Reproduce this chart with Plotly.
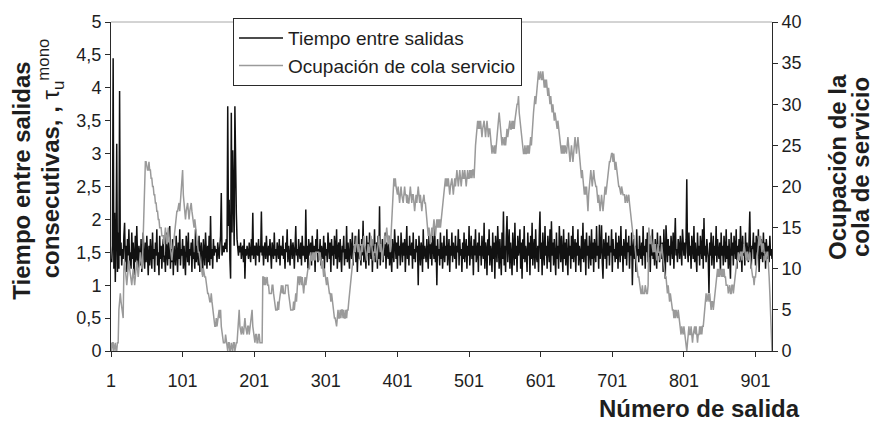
import plotly.graph_objects as go

# Tick positions on the departure-number axis
numero_salida_ticks = [1, 101, 201, 301, 401, 501, 601, 701, 801, 901]

# Time between consecutive departures (left axis), one value per departure
tiempo_entre_salidas = [
    1.40, 1.35, 1.60, 4.45, 1.25, 2.10, 1.05, 1.70, 3.15, 1.20,
    1.80, 1.25, 3.95, 1.45, 1.65, 1.30, 1.55, 1.40, 1.75, 1.95,
    1.35, 1.60, 1.20, 1.70, 1.45, 1.85, 1.30, 1.50, 1.25, 1.80,
    1.40, 1.65, 1.15, 1.55, 1.75, 1.35, 1.90, 1.45, 1.25, 1.60,
    1.50, 1.30, 1.70, 1.20, 1.55, 1.80, 1.40, 1.25, 1.65, 1.35,
    1.75, 1.45, 1.15, 1.60, 1.30, 1.70, 1.50, 1.25, 1.80, 1.40,
    1.55, 1.20, 1.65, 1.45, 1.85, 1.30, 1.50, 1.15, 1.75, 1.40,
    1.60, 1.25, 1.55, 1.70, 1.35, 1.45, 1.20, 1.80, 1.50, 1.30,
    1.65, 1.40, 1.90, 1.25, 1.55, 1.35, 1.70, 1.15, 1.60, 1.45,
    1.30, 1.75, 1.50, 1.20, 1.65, 1.40, 1.85, 1.30, 1.55, 1.45,
    1.70, 1.25, 1.60, 1.40, 1.15, 1.75, 1.50, 1.35, 1.80, 1.30,
    1.55, 1.45, 1.65, 1.20, 1.70, 1.40, 1.50, 1.25, 1.85, 1.35,
    1.60, 1.45, 1.30, 1.75, 1.20, 1.55, 1.65, 1.40, 1.15, 1.70,
    1.50, 1.30, 1.80, 1.45, 1.25, 1.60, 1.35, 1.75, 1.30, 2.05,
    1.40, 1.55, 1.25, 1.70, 1.45, 1.60, 1.50, 1.55, 1.35, 1.65,
    1.50, 1.40, 1.60, 1.75, 2.40, 1.45, 1.55, 1.60, 1.50, 1.65,
    1.55, 1.70, 1.50, 3.72, 1.90, 2.30, 1.40, 1.10, 3.62, 1.80,
    3.05, 2.00, 1.60, 3.72, 2.60, 2.10, 1.70, 1.55, 1.45, 1.60,
    1.50, 1.65, 1.40, 1.55, 1.60, 1.35, 1.70, 1.10, 1.55, 1.45,
    1.60, 1.50, 1.40, 1.65, 1.55, 1.35, 1.70, 1.45, 2.10, 1.40,
    1.55, 1.60, 1.30, 1.65, 1.50, 1.45, 1.70, 1.35, 1.60, 1.50,
    2.12, 1.45, 1.60, 1.30, 1.55, 1.65, 1.40, 1.75, 1.50, 1.35,
    1.60, 1.45, 1.70, 1.55, 1.25, 1.65, 1.50, 1.40, 1.80, 1.45,
    1.55, 1.35, 1.65, 1.50, 1.40, 1.70, 1.30, 1.60, 1.55, 1.45,
    1.75, 1.40, 1.55, 1.25, 1.65, 1.50, 1.85, 1.35, 1.60, 1.45,
    1.30, 1.70, 1.50, 1.40, 1.65, 1.55, 1.25, 1.60, 1.90, 1.45,
    1.55, 1.35, 1.70, 1.50, 1.40, 1.65, 1.30, 1.75, 1.45, 1.60,
    1.50, 1.35, 2.15, 1.40, 1.60, 1.25, 1.70, 1.50, 1.45, 1.65,
    1.30, 1.75, 1.55, 1.40, 1.60, 1.20, 1.70, 1.50, 1.85, 1.35,
    1.55, 1.45, 1.70, 1.30, 1.60, 1.50, 1.40, 1.75, 1.25, 1.65,
    1.45, 1.55, 1.35, 1.80, 1.50, 1.40, 1.65, 1.20, 1.70, 1.45,
    1.60, 1.30, 1.75, 1.50, 1.40, 1.85, 1.25, 1.55, 1.65, 1.35,
    1.70, 1.45, 1.20, 1.60, 1.50, 1.75, 1.30, 1.55, 1.40, 1.90,
    1.35, 1.65, 1.45, 1.25, 1.70, 1.55, 1.40, 1.80, 1.30, 1.60,
    1.50, 1.75, 1.35, 1.65, 1.20, 1.55, 1.85, 1.40, 1.60, 1.30,
    1.70, 1.45, 1.98, 1.35, 1.60, 1.50, 1.25, 1.75, 1.45, 1.65,
    1.30, 1.80, 1.50, 1.40, 1.70, 1.20, 1.60, 1.45, 1.85, 1.35,
    1.55, 1.65, 1.25, 1.75, 1.40, 2.20, 1.30, 1.60, 1.50, 1.70,
    1.35, 1.55, 1.45, 1.80, 1.25, 1.65, 1.50, 1.40, 1.75, 1.30,
    1.60, 1.45, 1.20, 1.70, 1.55, 1.35, 1.85, 1.50, 1.40, 1.65,
    1.25, 1.75, 1.45, 1.60, 1.30, 1.80, 1.50, 1.35, 1.65, 1.45,
    1.70, 1.20, 1.55, 1.90, 1.40, 1.60, 1.30, 1.75, 1.50, 1.45,
    1.65, 1.25, 1.80, 1.40, 1.55, 1.35, 1.70, 1.50, 1.60, 1.00,
    1.75, 1.45, 1.30, 1.65, 1.55, 1.20, 1.85, 1.40, 1.60, 1.50,
    1.35, 1.70, 1.45, 1.25, 1.80, 1.55, 1.40, 1.65, 1.30, 1.75,
    1.50, 1.40, 1.90, 1.35, 1.60, 1.00, 1.70, 1.45, 1.55, 1.30,
    1.80, 1.40, 1.65, 1.25, 1.50, 1.75, 1.35, 1.60, 1.45, 1.85,
    1.30, 1.55, 1.70, 1.20, 1.60, 1.45, 1.80, 1.35, 1.65, 1.50,
    1.40, 1.75, 1.25, 1.60, 1.50, 1.85, 1.30, 1.70, 1.45, 1.55,
    1.20, 1.65, 1.40, 1.80, 1.35, 1.55, 1.70, 1.25, 1.60, 1.45,
    1.90, 1.30, 1.50, 1.75, 1.40, 1.60, 1.15, 1.70, 1.45, 1.85,
    1.35, 1.55, 1.65, 1.20, 1.80, 1.45, 1.60, 1.30, 1.75, 1.50,
    1.40, 1.95, 1.25, 1.65, 1.55, 1.15, 1.70, 1.45, 1.85, 1.30,
    1.60, 1.50, 1.20, 1.80, 1.40, 1.65, 1.10, 1.75, 1.55, 1.35,
    1.90, 1.45, 1.25, 1.70, 1.50, 1.15, 1.80, 1.40, 2.12, 1.30,
    1.60, 1.20, 1.75, 2.05, 1.35, 1.55, 1.85, 1.25, 1.65, 1.45,
    1.15, 1.80, 1.50, 1.30, 1.95, 1.40, 1.60, 1.20, 1.75, 1.45,
    1.55, 1.85, 1.25, 1.65, 1.10, 1.70, 1.40, 1.90, 1.35, 1.60,
    1.50, 1.20, 1.80, 1.45, 1.65, 1.15, 1.75, 1.40, 1.95, 1.30,
    1.55, 1.70, 1.25, 1.85, 1.45, 1.35, 1.60, 1.20, 1.75, 2.12,
    1.40, 1.65, 1.15, 1.80, 1.50, 1.30, 1.90, 1.45, 1.60, 1.25,
    1.75, 1.55, 1.35, 1.85, 1.20, 1.97, 1.45, 1.65, 1.30, 1.70,
    1.50, 1.15, 1.80, 1.40, 1.60, 1.25, 1.90, 1.45, 1.35, 1.75,
    1.55, 1.20, 1.85, 1.40, 1.65, 1.30, 1.70, 1.50, 1.15, 1.80,
    1.45, 1.60, 1.25, 1.75, 1.40, 1.90, 1.35, 1.55, 1.70, 1.20,
    1.65, 1.45, 1.85, 1.30, 1.60, 1.50, 1.20, 1.75, 1.40, 1.95,
    1.35, 1.55, 1.70, 1.15, 1.80, 1.45, 1.60, 1.25, 1.75, 1.50,
    1.30, 1.85, 1.40, 1.65, 1.20, 1.70, 1.55, 1.35, 1.90, 1.45,
    1.60, 1.25, 1.92, 1.40, 1.55, 1.91, 1.35, 1.10, 1.70, 1.50,
    1.40, 1.80, 1.25, 1.65, 1.45, 1.75, 1.30, 1.60, 1.50, 1.85,
    1.20, 1.70, 1.45, 1.55, 1.35, 1.80, 1.40, 1.65, 1.25, 1.75,
    1.50, 1.35, 1.90, 1.45, 1.60, 1.20, 1.70, 1.55, 1.40, 1.85,
    1.30, 1.65, 1.50, 1.75, 1.25, 1.60, 1.45, 1.80, 1.00, 1.55,
    1.70, 1.40, 1.60, 1.20, 1.85, 1.45, 1.55, 1.35, 1.75, 1.50,
    1.40, 1.65, 1.30, 1.90, 1.45, 1.60, 1.25, 1.70, 1.50, 1.80,
    1.35, 1.55, 1.75, 1.20, 1.65, 1.45, 1.85, 1.40, 1.60, 1.30,
    1.70, 1.50, 1.25, 1.80, 1.45, 1.60, 1.35, 1.75, 1.55, 1.40,
    1.65, 1.20, 1.85, 1.45, 1.10, 1.91, 1.50, 1.35, 1.70, 1.45,
    1.60, 1.30, 1.75, 1.50, 1.40, 1.80, 1.25, 1.65, 2.02, 1.45,
    1.55, 1.35, 1.70, 1.60, 1.40, 1.75, 1.50, 1.30, 1.85, 1.55,
    1.45, 1.65, 1.40, 1.70, 2.61, 1.50, 1.35, 1.80, 1.45, 1.60,
    1.25, 1.75, 1.55, 1.40, 1.90, 1.35, 1.65, 1.50, 1.20, 1.80,
    1.45, 1.60, 1.30, 1.75, 1.50, 1.40, 1.85, 1.25, 2.02, 1.45,
    1.60, 1.35, 1.70, 1.50, 1.40, 0.88, 1.65, 1.45, 1.80, 1.30,
    1.55, 1.75, 1.25, 1.60, 1.45, 1.90, 1.35, 1.70, 1.50, 1.40,
    1.65, 1.20, 1.80, 1.45, 1.60, 1.30, 1.75, 1.50, 1.35, 1.85,
    1.40, 1.60, 1.25, 1.70, 1.50, 1.10, 1.80, 1.45, 1.65, 1.30,
    1.75, 1.55, 1.40, 1.85, 1.25, 1.60, 1.45, 1.70, 1.35, 1.90,
    1.50, 1.20, 1.75, 1.45, 1.60, 1.30, 1.80, 1.40, 1.65, 1.50,
    1.35, 1.70, 2.12, 1.45, 1.25, 1.60, 1.55, 1.80, 1.40, 1.65,
    1.30, 1.75, 1.50, 1.45, 1.85, 1.20, 1.60, 1.40, 1.70, 1.55,
    1.35, 1.80, 1.45, 1.65, 1.25, 1.70, 1.50, 1.40, 1.60, 1.35,
    1.75, 1.45, 1.55, 1.40,
]

# Service queue occupancy (right axis), one value per departure
ocupacion_cola = [
    1, 0, 1, 1, 0, 1, 1, 0, 0, 1,
    1, 5, 6, 7, 6, 5, 4, 4, 10, 11,
    10, 9, 8, 9, 10, 11, 10, 9, 8, 8,
    9, 10, 9, 8, 9, 10, 11, 10, 9, 10,
    11, 12, 11, 10, 11, 14, 18, 21, 23, 23,
    22, 22, 22, 23, 22, 22, 21, 21, 20, 20,
    19, 19, 18, 18, 17, 17, 16, 16, 15, 15,
    15, 14, 14, 14, 13, 14, 15, 14, 13, 14,
    15, 14, 13, 12, 11, 11, 12, 13, 14, 15,
    16, 17, 17, 17, 18, 18, 17, 18, 19, 20,
    22, 19, 18, 17, 16, 17, 18, 18, 17, 16,
    17, 18, 18, 17, 16, 16, 15, 16, 15, 14,
    13, 13, 12, 12, 11, 11, 10, 10, 9, 10,
    9, 9, 9, 8, 8, 7, 7, 6, 6, 6,
    7, 6, 5, 4, 4, 3, 3, 4, 3, 4,
    5, 5, 4, 5, 3, 2, 2, 1, 1, 1,
    2, 1, 1, 0, 1, 1, 0, 0, 1, 0,
    0, 1, 1, 0, 1, 1, 1, 2, 3, 5,
    3, 2, 2, 3, 2, 2, 3, 4, 3, 2,
    2, 3, 3, 2, 3, 4, 4, 5, 3, 2,
    2, 1, 2, 2, 1, 1, 2, 2, 1, 1,
    1, 1, 9, 9, 8, 9, 8, 9, 9, 8,
    8, 7, 7, 7, 7, 8, 8, 7, 6, 6,
    5, 5, 5, 6, 5, 6, 7, 8, 8, 7,
    8, 7, 7, 7, 8, 8, 8, 8, 7, 6,
    5, 5, 5, 5, 5, 6, 5, 6, 7, 6,
    8, 9, 9, 8, 9, 9, 8, 9, 8, 7,
    8, 9, 8, 9, 9, 10, 10, 10, 11, 12,
    11, 11, 12, 11, 12, 11, 12, 12, 12, 12,
    12, 11, 12, 11, 10, 11, 10, 9, 10, 9,
    9, 8, 9, 8, 8, 7, 7, 6, 7, 6,
    5, 5, 4, 4, 3, 3, 4, 5, 4, 4,
    5, 4, 5, 5, 4, 5, 4, 4, 5, 4,
    5, 5, 6, 7, 8, 9, 10, 11, 12, 12,
    13, 12, 13, 14, 13, 12, 13, 12, 11, 12,
    13, 12, 13, 14, 13, 12, 12, 11, 12, 13,
    12, 12, 13, 14, 13, 12, 11, 12, 12, 13,
    12, 11, 12, 13, 14, 13, 12, 13, 12, 11,
    12, 13, 14, 13, 14, 15, 14, 13, 14, 13,
    12, 14, 16, 18, 20, 21, 20, 21, 20, 19,
    19, 20, 19, 18, 19, 20, 19, 18, 18, 19,
    20, 19, 19, 18, 19, 18, 18, 19, 20, 19,
    18, 19, 19, 18, 17, 18, 19, 18, 19, 20,
    19, 18, 19, 18, 17, 18, 19, 19, 18, 18,
    17, 16, 15, 14, 15, 14, 13, 14, 15, 14,
    15, 16, 15, 14, 15, 16, 15, 16, 15, 16,
    15, 16, 16, 17, 18, 19, 20, 21, 20, 21,
    20, 21, 20, 19, 20, 21, 21, 20, 19, 20,
    21, 20, 21, 22, 21, 20, 21, 22, 21, 20,
    21, 22, 21, 21, 22, 21, 20, 21, 22, 21,
    21, 22, 21, 22, 21, 22, 22, 21, 24, 25,
    26, 27, 28, 27, 28, 27, 28, 27, 26, 27,
    28, 28, 27, 26, 27, 28, 27, 26, 27, 27,
    26, 25, 24, 25, 24, 24, 25, 24, 25, 26,
    27, 28, 29, 28, 27, 26, 25, 26, 25, 25,
    26, 25, 26, 27, 26, 27, 27, 28, 27, 27,
    28, 27, 28, 27, 28, 29, 29, 30, 30, 31,
    29, 28, 27, 26, 25, 25, 24, 24, 25, 24,
    24, 25, 24, 25, 24, 25, 26, 25, 27, 28,
    29, 30, 31, 30, 31, 32, 33, 34, 33, 34,
    34, 33, 33, 34, 33, 32, 33, 32, 33, 32,
    31, 32, 31, 30, 31, 30, 29, 30, 29, 28,
    29, 28, 27, 27, 28, 27, 26, 25, 25, 24,
    25, 24, 25, 24, 25, 24, 24, 25, 26, 25,
    24, 23, 24, 25, 24, 23, 24, 25, 26, 25,
    24, 25, 26, 25, 24, 23, 22, 21, 22, 21,
    20, 19, 20, 19, 20, 18, 17, 19, 20, 21,
    22, 21, 20, 21, 22, 21, 20, 20, 20, 19,
    18, 19, 18, 17, 18, 19, 18, 17, 18, 19,
    20, 19, 20, 21, 22, 22, 23, 23, 24, 24,
    24, 23, 24, 23, 22, 23, 22, 22, 21, 20,
    20, 19, 19, 20, 19, 19, 19, 19, 18, 19,
    19, 18, 19, 19, 18, 17, 17, 16, 15, 14,
    14, 13, 12, 11, 11, 10, 9, 9, 8, 8,
    7, 7, 8, 7, 7, 7, 8, 7, 7, 7,
    8, 15, 14, 13, 14, 13, 13, 12, 13, 12,
    13, 12, 11, 12, 13, 12, 12, 11, 12, 13,
    12, 11, 11, 10, 9, 9, 8, 7, 8, 7,
    6, 7, 6, 5, 5, 5, 4, 5, 4, 5,
    4, 4, 5, 4, 3, 3, 2, 3, 2, 2,
    3, 2, 1, 1, 0, 1, 2, 3, 2, 2,
    3, 2, 1, 2, 3, 3, 2, 3, 2, 1,
    2, 2, 3, 2, 3, 2, 3, 3, 4, 5,
    7, 7, 6, 7, 7, 6, 7, 6, 5, 6,
    6, 5, 6, 6, 7, 8, 9, 10, 9, 10,
    9, 10, 10, 9, 10, 9, 10, 9, 9, 8,
    8, 8, 7, 8, 8, 7, 7, 8, 8, 7,
    8, 8, 9, 10, 11, 11, 12, 11, 12, 12,
    12, 11, 12, 12, 13, 12, 12, 11, 12, 12,
    11, 12, 12, 11, 10, 9, 9, 9, 8, 9,
    9, 10, 11, 12, 13, 14, 13, 14, 13, 12,
    13, 13, 12, 12, 11, 12, 12, 12, 11, 9,
    7, 5, 3, 0,
]

numero_salida = list(range(1, len(tiempo_entre_salidas) + 1))

FONT = "Liberation Sans, Arial, Helvetica, sans-serif"
TEXT = "#1e1e1e"
AXIS = "#2a2a2a"

fig = go.Figure()
fig.add_trace(go.Scatter(
    x=numero_salida, y=tiempo_entre_salidas, mode="lines",
    name="Tiempo entre salidas", legendgroup="tiempo",
    line=dict(color="#111111", width=1.5), yaxis="y",
))
fig.add_trace(go.Scatter(
    x=numero_salida[:len(ocupacion_cola)], y=ocupacion_cola, mode="lines",
    name="Ocupación de cola servicio", legendgroup="cola",
    line=dict(color="#9a9a9a", width=1.5), yaxis="y2",
))

axis_common = dict(showgrid=False, zeroline=False, showline=True,
                   linecolor=AXIS, linewidth=1, tickcolor=AXIS, ticklen=5,
                   tickwidth=1, ticks="outside",
                   tickfont=dict(family=FONT, size=18, color=TEXT))

fig.update_layout(
    width=882, height=434,
    margin=dict(l=111, r=110, t=13, b=83),
    paper_bgcolor="white", plot_bgcolor="white",
    separators=",.",
    font=dict(family=FONT, size=18, color=TEXT),
    showlegend=True,
    legend=dict(
        x=0.1846, y=1.012, xanchor="left", yanchor="top",
        bordercolor=AXIS, borderwidth=1, bgcolor="white",
        font=dict(family=FONT, size=19, color=TEXT),
        itemwidth=44, tracegroupgap=0, traceorder="normal",
    ),
    xaxis=dict(range=[1, len(numero_salida)], tickvals=numero_salida_ticks,
               ticklabelstandoff=8, **axis_common),
    yaxis=dict(range=[0, 5], tick0=0, dtick=0.5, **axis_common),
    yaxis2=dict(range=[0, 40], tick0=0, dtick=5, overlaying="y", side="right",
                anchor="x", **axis_common),
    yaxis3=dict(range=[0, 40], tick0=0, dtick=5, overlaying="y", side="right",
                anchor="x", showgrid=False, zeroline=False, showline=False,
                ticks="inside", ticklen=5, tickcolor=AXIS, showticklabels=False),
    shapes=[dict(type="line", xref="paper", yref="paper", x0=0, x1=1, y0=1, y1=1,
                 line=dict(color="#a8a8a8", width=1))],
)

title_font = dict(family=FONT, size=24, color=TEXT)
annotations = [
    dict(text="<b>Tiempo entre salidas</b>", x=-0.1346, y=0.5178, textangle=-90),
    dict(text="<b>consecutivas, ,</b> τ<sub>u</sub><sup>mono</sup>", x=-0.0908, y=0.5858, textangle=-90),
    dict(text="<b>Ocupación de la</b>", x=1.0983, y=0.5592, textangle=-90),
    dict(text="<b>cola de servicio</b>", x=1.1331, y=0.5592, textangle=-90),
]
for a in annotations:
    fig.add_annotation(xref="paper", yref="paper", showarrow=False,
                       xanchor="center", yanchor="middle", font=title_font, **a)
fig.add_annotation(text="<b>Número de salida</b>", xref="paper", yref="paper",
                   x=1.0454, y=-0.1746, xanchor="right", yanchor="middle",
                   showarrow=False, font=title_font)

fig.write_html("out.html")
